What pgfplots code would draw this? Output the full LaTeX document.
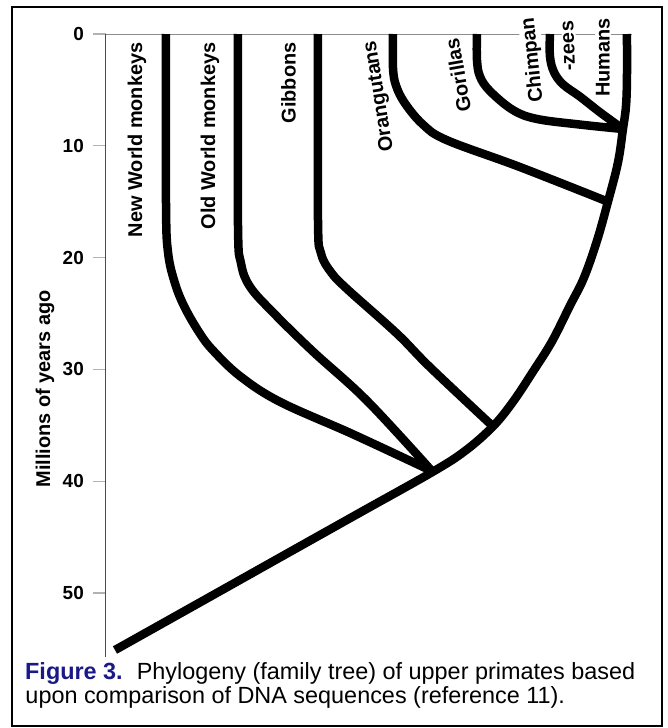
\documentclass[border=0pt]{standalone}
\usepackage{fontspec}
\setmainfont{Liberation Sans}
\usepackage{pgfplots}
\pgfplotsset{compat=1.18}
\definecolor{figblue}{RGB}{25,25,135}
\tikzset{branch/.style={black, line width=8.5bp, smooth, tension=0.6, line cap=butt, line join=round}}
\begin{document}
\begin{tikzpicture}
\begin{axis}[
 scale only axis, width=556bp, height=623bp,
 xmin=106, xmax=662, ymin=0, ymax=55.72, y dir=reverse,
 axis x line=none, axis y line*=left,
 axis line style={line width=1bp, draw=black!70},
 ytick={0,10,20,30,40,50},
 tick align=outside, major tick length=13bp,
 ytick style={draw=black!30, line width=1.2bp},
 yticklabel style={font=\fontsize{19}{19}\selectfont\bfseries, inner sep=0pt, anchor=east, xshift=-9bp},
 /pgf/number format/assume math mode=true,
 clip=false,
]
% bounding box and frame
\coordinate (bbsw) at (axis cs:0,62.075);
\coordinate (bbne) at (axis cs:668,-3.041);
\draw[black, line width=1.5bp] (axis cs:12,-2.415) rectangle (axis cs:662,61.9);
% top reference line
\addplot[black!45, line width=0.9bp] coordinates {(106,0) (632,0)};
% labels
\node[rotate=90, anchor=east, inner sep=0pt, font=\fontsize{20}{20}\selectfont\bfseries] at (axis cs:137,0.75) {New World monkeys};
\node[rotate=90, anchor=east, inner sep=0pt, font=\fontsize{20}{20}\selectfont\bfseries] at (axis cs:210,0.75) {Old World monkeys};
\node[rotate=90, anchor=east, inner sep=0pt, font=\fontsize{20}{20}\selectfont\bfseries] at (axis cs:288.5,0.75) {Gibbons};
\node[rotate=99, inner sep=0pt, font=\fontsize{20}{20}\selectfont\bfseries] at (axis cs:379.5,5.55) {Orangutans};
\node[rotate=100, inner sep=0pt, font=\fontsize{20}{20}\selectfont\bfseries] at (axis cs:458,3.67) {Gorillas};
\node[rotate=96, inner sep=1.5bp, fill=white, font=\fontsize{20}{20}\selectfont\bfseries] at (axis cs:533,2.33) {Chimpan};
\node[rotate=92, inner sep=1.5bp, fill=white, font=\fontsize{20}{20}\selectfont\bfseries] at (axis cs:569,1.07) {-zees};
\node[rotate=90, inner sep=1.5bp, fill=white, font=\fontsize{20}{20}\selectfont\bfseries] at (axis cs:603,2.1) {Humans};
\node[rotate=90, inner sep=0pt, font=\fontsize{20}{20}\selectfont\bfseries] at (axis cs:45,31.75) {Millions of years ago};
% branches
\addplot[branch] coordinates {(166,0) (166,15) (168,19.5) (175,22.3) (185,24.5) (200,26.8) (213,28.3) (240,30.6) (280,32.9) (353,35.8) (432,39.1)};
\addplot[branch] coordinates {(238,0) (238,17) (241,20.5) (250,22.6) (273,24.9) (313,28.4) (367,32.8) (432,39.1)};
\addplot[branch] coordinates {(318,0) (318,16.5) (321,19.6) (331,21.3) (347,22.8) (397,26.8) (430,29.8) (493,35.1)};
\addplot[branch] coordinates {(393,0) (393,3.0) (396,4.6) (405,6.2) (423,8.1) (447,9.5) (520,11.9) (608,15.0)};
\addplot[branch] coordinates {(477,0) (477,2.3) (480,3.8) (490,5.1) (513,6.8) (537,7.6) (580,8.1) (623,8.5)};
\addplot[branch] coordinates {(550,0) (550,2.0) (554,3.4) (563,4.5) (580,5.6) (600,7.0) (623,8.5)};
\addplot[branch] coordinates {(627,0) (627,4) (626,6.5) (623,8.5) (618,11.5) (608,15.0) (597,18.5) (584,21.8) (570,24.3) (552,27.5) (533,30.2) (513,32.9) (493,35.1) (465,37.3) (432,39.2) (360,42.81) (290,46.32) (200,50.84) (115,55.1)};
% caption
\node[anchor=base west, inner sep=0pt, font=\fontsize{23.5}{24}\selectfont] at (axis cs:25,57.78) {\textcolor{figblue}{\bfseries Figure 3.}\hspace{0.6em}Phylogeny (family tree) of upper primates based};
\node[anchor=base west, inner sep=0pt, font=\fontsize{23.5}{24}\selectfont] at (axis cs:25.3,59.88) {upon comparison of DNA sequences (reference 11).};
\end{axis}
\path (bbsw) rectangle (bbne);
\end{tikzpicture}
\end{document}
